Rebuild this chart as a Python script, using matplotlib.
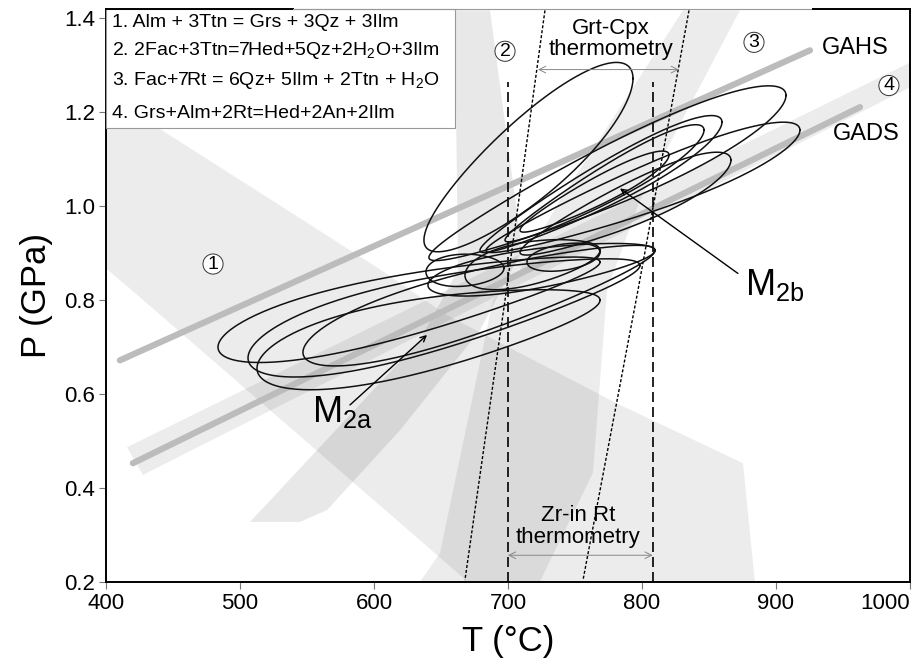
import numpy as np
import matplotlib.pyplot as plt

plt.rcParams['font.family'] = ['Liberation Sans', 'DejaVu Sans']
plt.rcParams['mathtext.fontset'] = 'custom'
plt.rcParams['mathtext.rm'] = 'Liberation Sans'
plt.rcParams['mathtext.it'] = 'Liberation Sans:italic'

# P-T loops (left tip, right tip, half thickness in GPa, taper: >0 blunt left, <0 blunt right)
loop_T_left = [483.6, 506.0, 512.7, 547.0, 638.8, 667.9, 714.2, 637.3, 641.0, 683.6, 679.1, 697.8, 709.0, 709.0, 640.3]
loop_P_left = [0.700, 0.677, 0.655, 0.689, 0.860, 0.853, 0.881, 0.928, 0.891, 0.906, 0.906, 0.928, 0.902, 0.949, 0.832]
loop_T_right = [768.7, 798.5, 768.7, 809.7, 697.0, 768.7, 768.7, 793.3, 907.5, 917.9, 859.7, 846.3, 866.4, 820.2, 809.7]
loop_P_right = [0.881, 0.874, 0.800, 0.906, 0.868, 0.906, 0.902, 1.272, 1.236, 1.162, 1.179, 1.162, 1.098, 1.109, 0.906]
loop_halfwidth = [0.066, 0.078, 0.078, 0.068, 0.034, 0.046, 0.028, 0.105, 0.068, 0.052, 0.050, 0.042, 0.048, 0.032, 0.042]
loop_taper = [0.35, 0.35, 0.3, 0.3, 0.1, 0.2, 0.0, -0.1, -0.3, -0.35, -0.3, -0.3, -0.3, -0.2, 0.2]

# geotherms
gahs_T = [410.4, 925.4]
gahs_P = [0.672, 1.332]
gads_T = [420.1, 962.7]
gads_P = [0.453, 1.211]

# reaction bands
band1_T = [400, 602.2, 654.5, 783.6, 875.4, 884.3, 670.2, 619.4, 419.4, 400]
band1_P = [1.238, 0.870, 0.768, 0.577, 0.453, 0.2, 0.2, 0.326, 0.821, 0.868]
band2_T = [660.4, 686.6, 710.5, 679.1, 619.4, 564.9, 544.8, 507.5, 569.4, 634.3, 662.7]
band2_P = [1.417, 1.417, 0.906, 0.736, 0.523, 0.353, 0.328, 0.328, 0.517, 0.715, 0.864]
band3_T = [830.6, 873.1, 798.5, 773.9, 763.4, 729.1, 723.9, 634.3, 649.3, 688.8, 709.0, 738.8]
band3_P = [1.417, 1.417, 1.013, 0.821, 0.432, 0.232, 0.2, 0.2, 0.262, 0.800, 0.864, 1.013]
band4_T = [415.7, 427.6, 1000, 1000]
band4_P = [0.487, 0.428, 1.253, 1.306]

# Grt-Cpx thermometry limits (dotted)
grtcpx_lo_T = [727.6, 697.8, 667.9]
grtcpx_lo_P = [1.417, 0.800, 0.204]
grtcpx_hi_T = [835.1, 797.0, 756.0]
grtcpx_hi_P = [1.417, 0.821, 0.204]

# Zr-in-Rt thermometry limits (dashed)
zr_T = [700, 808]
zr_P = [0.2, 1.264]

reactions = ["1. Alm + 3Ttn = Grs + 3Qz + 3Ilm",
             "2. 2Fac+3Ttn=7Hed+5Qz+2H$_2$O+3Ilm",
             "3. Fac+7Rt = 6Qz+ 5Ilm + 2Ttn + H$_2$O",
             "4. Grs+Alm+2Rt=Hed+2An+2Ilm"]
reaction_P = [1.391, 1.332, 1.268, 1.198]

circle_labels = ["1", "2", "3", "4"]
circle_T = [479.9, 697.8, 883.6, 984.3]
circle_P = [0.877, 1.330, 1.349, 1.257]

fig = plt.figure(figsize=(9.15, 6.66), dpi=100)
ax = fig.add_axes([0.1158, 0.1261, 0.8787, 0.8604])

for bt, bp, a in [(band1_T, band1_P, 0.075), (band2_T, band2_P, 0.09),
                  (band3_T, band3_P, 0.075), (band4_T, band4_P, 0.075)]:
    ax.fill(bt, bp, color='black', alpha=a, lw=0, zorder=1)

ax.plot(gahs_T, gahs_P, color='#bcbcbc', lw=4.5, solid_capstyle='round', zorder=2)
ax.plot(gads_T, gads_P, color='#bcbcbc', lw=4.5, solid_capstyle='round', zorder=2)

ax.plot(grtcpx_lo_T, grtcpx_lo_P, color='black', lw=1.0, dashes=(2.2, 1.4), zorder=3)
ax.plot(grtcpx_hi_T, grtcpx_hi_P, color='black', lw=1.0, dashes=(2.2, 1.4), zorder=3)
for t in zr_T:
    ax.plot([t, t], zr_P, color='black', lw=1.2, dashes=(6, 3), zorder=3)

t = np.linspace(0, 2 * np.pi, 300)
for tl, pl, tr, pr, w, k in zip(loop_T_left, loop_P_left, loop_T_right, loop_P_right,
                                loop_halfwidth, loop_taper):
    tc, pc = (tl + tr) / 2, (pl + pr) / 2
    dt, dp = (tr - tl) / 2, (pr - pl) / 2
    ax.plot(tc + dt * np.cos(t), pc + dp * np.cos(t) + w * np.sin(t) * (1 - k * np.cos(t)),
            color='#111111', lw=1.1, zorder=4)

# thermometry arrows and labels
ax.annotate('', xy=(722.4, 1.291), xytext=(827.6, 1.291),
            arrowprops=dict(arrowstyle='<->', color='#888888', lw=0.7,
                            shrinkA=0, shrinkB=0, mutation_scale=12), zorder=5)
ax.text(776.9, 1.356, "Grt-Cpx\nthermometry", ha='center', va='center',
        fontsize=16, linespacing=0.95, zorder=6)
ax.annotate('', xy=(700, 0.257), xytext=(808, 0.257),
            arrowprops=dict(arrowstyle='<->', color='#888888', lw=0.7,
                            shrinkA=0, shrinkB=0, mutation_scale=12), zorder=5)
ax.text(752.2, 0.318, "Zr-in Rt\nthermometry", ha='center', va='center',
        fontsize=16, linespacing=1.05, zorder=6)

# M2a / M2b
ax.annotate('', xy=(639.6, 0.726), xytext=(582.1, 0.577),
            arrowprops=dict(arrowstyle='->', color='black', lw=1.0,
                            shrinkA=0, shrinkB=0), zorder=5)
ax.text(553.7, 0.540, r"M$_{\mathrm{2a}}$", fontsize=26, ha='left', va='baseline', zorder=6)
ax.annotate('', xy=(783.6, 1.038), xytext=(871.6, 0.857),
            arrowprops=dict(arrowstyle='->', color='black', lw=1.0,
                            shrinkA=0, shrinkB=0), zorder=5)
ax.text(876.9, 0.811, r"M$_{\mathrm{2b}}$", fontsize=26, ha='left', va='baseline', zorder=6)

ax.text(934.3, 1.338, "GAHS", fontsize=17, ha='left', va='center', zorder=6)
ax.text(942.5, 1.153, "GADS", fontsize=17, ha='left', va='center', zorder=6)

for lab, ct, cp in zip(circle_labels, circle_T, circle_P):
    ax.text(ct, cp, lab, fontsize=14, ha='center', va='center', zorder=6,
            bbox=dict(boxstyle='circle,pad=0.08', fc='white', ec='#333333', lw=0.7))

# reaction legend box
ax.add_patch(plt.Rectangle((400, 1.166), 260.4, 0.254, fc='white', ec='#999999',
                           lw=0.8, zorder=5, clip_on=False))
for txt, p in zip(reactions, reaction_P):
    ax.text(404.5, p, txt, fontsize=14, ha='left', va='center', zorder=6)

ax.set_xlim(400, 1000)
ax.set_ylim(0.2, 1.42)
ax.set_xticks([400, 500, 600, 700, 800, 900, 1000])
ax.set_yticks([0.2, 0.4, 0.6, 0.8, 1.0, 1.2, 1.4])
ax.set_yticklabels(["0.2", "0.4", "0.6", "0.8", "1.0", "1.2", "1.4"])
ax.tick_params(labelsize=16, direction='out', length=5, width=0.8, color='#777777', pad=3)
ax.get_xticklabels()[-1].set_horizontalalignment('right')
for s in ax.spines.values():
    s.set_linewidth(1.4)
    s.set_color('black')

# top frame: black at the ends, thin grey across the middle
ax.spines['top'].set_visible(False)
ax.plot([0, 0.2326], [1, 1], transform=ax.transAxes, color='black', lw=1.4,
        clip_on=False, zorder=7)
ax.plot([0.2326, 0.8794], [1, 1], transform=ax.transAxes, color='#999999', lw=0.8,
        clip_on=False, zorder=7)
ax.plot([0.8794, 1], [1, 1], transform=ax.transAxes, color='black', lw=1.4,
        clip_on=False, zorder=7)

ax.set_xlabel("T (°C)", fontsize=25, labelpad=8)
ax.set_ylabel("P (GPa)", fontsize=25, labelpad=8)

fig.savefig("out.png", dpi=100)
